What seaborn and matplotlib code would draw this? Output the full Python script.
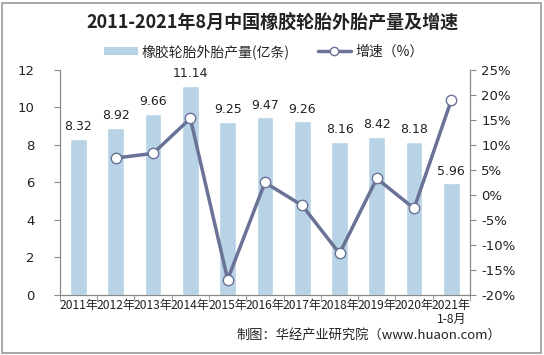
import numpy as np
import pandas as pd
import matplotlib
matplotlib.use("Agg")
import matplotlib.pyplot as plt
import seaborn as sns
from matplotlib.patches import Rectangle
from matplotlib.lines import Line2D
from matplotlib.patches import Patch

# ---- data ----
years = ["2011年", "2012年", "2013年", "2014年", "2015年", "2016年",
         "2017年", "2018年", "2019年", "2020年", "2021年\n1-8月"]
output = [8.32, 8.92, 9.66, 11.14, 9.25, 9.47, 9.26, 8.16, 8.42, 8.18, 5.96]
growth_years = years[1:]
growth = [7.4, 8.3, 15.3, -16.9, 2.5, -2.1, -11.7, 3.3, -2.7, 19.0]

sns.set_style("white")
plt.rcParams["font.family"] = ["Noto Sans CJK SC", "DejaVu Sans"]
plt.rcParams["axes.unicode_minus"] = False

bar_color = "#b7d3e5"
line_color = "#6a7296"
grey = "#898989"

fig = plt.figure(figsize=(5.44, 3.55), dpi=100)
ax = fig.add_axes([0.110, 0.169, 0.754, 0.634])

df = pd.DataFrame({"year": years, "output": output})
sns.barplot(data=df, x="year", y="output", color=bar_color, width=0.45,
            saturation=1, ax=ax)
ax.set_xlim(-0.5, len(years) - 0.5)
ax.set_ylim(0, 12)
ax.set_yticks(range(0, 13, 2))
ax.set_xlabel("")
ax.set_ylabel("")

for i, v in enumerate(output):
    ax.text(i, v + 0.3, f"{v:.2f}", ha="center", va="bottom", fontsize=9,
            color="#222222", family="DejaVu Sans")

# right axis - growth
ax2 = ax.twinx()
gdf = pd.DataFrame({"x": np.arange(1, len(years)), "growth": growth})
sns.lineplot(data=gdf, x="x", y="growth", ax=ax2, color=line_color,
             linewidth=2.5, marker="o", markersize=7.5,
             markerfacecolor="white", markeredgecolor=line_color,
             markeredgewidth=1.0)
ax2.set_ylim(-20, 25)
ax2.set_yticks(range(-20, 26, 5))
ax2.set_yticklabels([f"{t}%" for t in range(-20, 26, 5)])
ax2.set_xlim(-0.5, len(years) - 0.5)
ax2.set_ylabel("")
ax2.set_xlabel("")

# axes styling
for a in (ax, ax2):
    a.spines["top"].set_visible(False)
    for s in ("left", "right", "bottom"):
        a.spines[s].set_color(grey)
        a.spines[s].set_linewidth(0.8)
ax.tick_params(axis="y", length=4, color=grey, labelsize=9.5, pad=14,
               labelcolor="#222222", left=True)
ax2.tick_params(axis="y", length=4, color=grey, labelsize=9.5, pad=4,
                labelcolor="#222222", right=True)
for lbl in ax.get_yticklabels() + ax2.get_yticklabels():
    lbl.set_family("DejaVu Sans")
ax.set_xticks(np.arange(len(years)))
ax.set_xticklabels(years, fontsize=8.7, color="#222222", linespacing=1.05)
ax.tick_params(axis="x", length=0, pad=3)
ax.set_xticks(np.arange(-0.5, len(years), 1), minor=True)
ax.tick_params(axis="x", which="minor", length=4, color=grey, bottom=True)

# title and legend
fig.text(0.5, 0.935, "2011-2021年8月中国橡胶轮胎外胎产量及增速",
         ha="center", va="center", fontsize=13, fontweight="bold",
         color="#222222")
handles = [Patch(facecolor=bar_color, edgecolor="none"),
           Line2D([], [], color=line_color, linewidth=2.5, marker="o",
                  markersize=6, markerfacecolor="white",
                  markeredgecolor=line_color)]
fig.legend(handles, ["橡胶轮胎外胎产量(亿条)", "增速（%）"],
           loc="center", bbox_to_anchor=(0.485, 0.855), ncol=2, frameon=False,
           fontsize=10, handlelength=2.4, handleheight=0.6, columnspacing=2.0,
           handletextpad=0.3)

fig.text(0.922, 0.055, "制图：华经产业研究院（www.huaon.com）", ha="right",
         va="center", fontsize=9.5, color="#222222")

# outer frame
fig.patches.append(Rectangle((0.004, 0.006), 0.99, 0.985, transform=fig.transFigure,
                             fill=False, edgecolor="#9a9a9a", linewidth=1.2))

fig.savefig("out.png", dpi=100)
